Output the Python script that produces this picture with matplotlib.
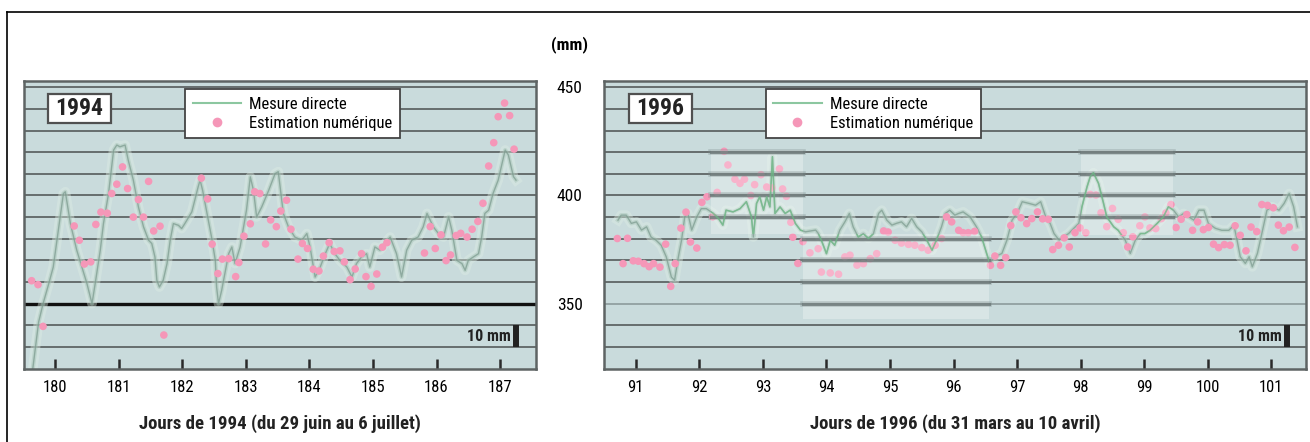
import matplotlib.pyplot as plt
from matplotlib.patches import Rectangle
from matplotlib.lines import Line2D

# Mesure directe (1994) : jour, hauteur (mm)
jours_94 = [179.64, 179.74, 179.81, 179.90, 179.97, 180.05, 180.13, 180.16, 180.24, 180.34,
            180.50, 180.58, 180.63, 180.71, 180.76, 180.84, 180.92, 180.97, 181.02, 181.10,
            181.15, 181.23, 181.31, 181.39, 181.47, 181.52, 181.57, 181.60, 181.64, 181.70,
            181.76, 181.81, 181.86, 181.94, 181.99, 182.04, 182.15, 182.25, 182.28, 182.32,
            182.39, 182.46, 182.52, 182.54, 182.57, 182.62, 182.67, 182.73, 182.78, 182.83,
            182.91, 183.01, 183.07, 183.12, 183.17, 183.25, 183.36, 183.46, 183.51, 183.59,
            183.67, 183.77, 183.88, 183.96, 184.01, 184.09, 184.17, 184.25, 184.32, 184.40,
            184.48, 184.59, 184.67, 184.74, 184.82, 184.90, 184.95, 185.03, 185.11, 185.19,
            185.27, 185.37, 185.45, 185.53, 185.61, 185.71, 185.79, 185.85, 185.90, 185.95,
            186.03, 186.11, 186.19, 186.24, 186.32, 186.40, 186.45, 186.50, 186.58, 186.66,
            186.71, 186.76, 186.82, 186.89, 186.97, 187.08, 187.13, 187.21, 187.25]
mesure_94 = [318.0, 341.5, 350.0, 359.3, 366.9, 383.9, 400.9, 401.7, 387.0, 374.7,
             359.3, 350.0, 359.3, 374.7, 387.0, 400.9, 421.0, 423.3, 422.5, 423.3,
             416.3, 407.1, 394.7, 385.5, 379.3, 377.8, 371.6, 360.8, 357.7, 360.8,
             368.5, 379.3, 387.0, 386.2, 384.7, 387.0, 392.4, 404.0, 407.1, 402.4,
             391.6, 380.8, 370.0, 357.7, 350.0, 356.2, 363.9, 373.1, 376.2, 368.5,
             376.2, 393.2, 408.6, 402.4, 390.1, 394.7, 402.4, 410.1, 411.0, 391.7,
             385.5, 380.8, 379.3, 382.4, 376.2, 362.3, 366.9, 373.1, 377.8, 373.1,
             370.0, 366.9, 362.3, 368.5, 371.6, 373.1, 366.9, 376.2, 374.7, 377.8,
             380.8, 373.1, 362.3, 374.7, 379.3, 380.8, 385.5, 391.7, 388.6, 385.5,
             382.4, 380.8, 390.1, 384.0, 370.0, 368.5, 365.4, 370.0, 371.6, 373.1,
             380.8, 391.7, 393.2, 401.0, 407.1, 421.0, 418.7, 408.7, 407.1]

# Estimation numerique (1994)
jours_est_94 = [179.63, 179.73, 179.81, 180.30, 180.38, 180.46, 180.56, 180.64, 180.72, 180.82,
                180.89, 180.97, 181.06, 181.14, 181.23, 181.31, 181.39, 181.47, 181.55, 181.65,
                181.71, 182.30, 182.40, 182.47, 182.56, 182.63, 182.73, 182.84, 182.89, 182.97,
                183.07, 183.14, 183.22, 183.31, 183.39, 183.48, 183.55, 183.64, 183.71, 183.82,
                183.89, 183.97, 184.06, 184.15, 184.22, 184.31, 184.39, 184.48, 184.55, 184.64,
                184.72, 184.82, 184.89, 184.97, 185.06, 185.15, 185.22, 185.81, 185.90, 185.98,
                186.07, 186.15, 186.22, 186.31, 186.38, 186.48, 186.56, 186.65, 186.73, 186.82,
                186.90, 186.97, 187.07, 187.15, 187.22]
estim_94 = [360.6, 358.8, 339.5, 385.9, 379.3, 368.3, 369.3, 386.6, 392.3, 391.8,
            400.9, 405.2, 413.2, 403.2, 390.0, 398.1, 390.0, 406.5, 383.6, 385.8,
            335.5, 408.0, 398.4, 377.5, 363.9, 370.6, 370.8, 362.5, 369.0, 381.2,
            386.9, 401.7, 400.9, 377.6, 388.7, 385.6, 392.8, 397.8, 384.4, 370.6,
            377.8, 375.5, 365.9, 365.1, 372.0, 378.2, 374.1, 374.4, 369.3, 361.1,
            366.0, 373.1, 362.5, 358.0, 363.7, 376.1, 378.2, 373.4, 385.6, 375.5,
            381.8, 369.9, 372.5, 381.5, 382.5, 380.8, 384.4, 388.0, 396.4, 413.6,
            424.4, 436.4, 442.7, 436.9, 421.4]

# Mesure directe (1996)
jours_96 = [90.72, 90.77, 90.85, 90.93, 91.01, 91.09, 91.17, 91.24, 91.32, 91.40,
            91.48, 91.56, 91.61, 91.67, 91.72, 91.77, 91.82, 91.88, 91.96, 92.03,
            92.11, 92.22, 92.30, 92.37, 92.42, 92.53, 92.64, 92.74, 92.82, 92.85,
            92.90, 92.95, 93.01, 93.06, 93.11, 93.15, 93.19, 93.27, 93.35, 93.43,
            93.51, 93.59, 93.67, 93.83, 93.87, 93.92, 94.00, 94.06, 94.13, 94.21,
            94.29, 94.36, 94.42, 94.50, 94.58, 94.66, 94.74, 94.82, 94.87, 94.95,
            95.03, 95.10, 95.18, 95.26, 95.34, 95.42, 95.50, 95.58, 95.66, 95.73,
            95.81, 95.87, 95.94, 96.02, 96.08, 96.15, 96.26, 96.36, 96.44, 96.52,
            96.57, 96.65, 96.76, 96.84, 96.92, 97.00, 97.08, 97.19, 97.29, 97.37,
            97.45, 97.52, 97.58, 97.66, 97.73, 97.81, 97.89, 97.97, 98.02, 98.10,
            98.15, 98.20, 98.28, 98.36, 98.41, 98.52, 98.59, 98.70, 98.78, 98.86,
            98.94, 99.01, 99.09, 99.20, 99.30, 99.38, 99.46, 99.54, 99.62, 99.70,
            99.78, 99.86, 99.94, 100.01, 100.12, 100.22, 100.33, 100.41, 100.46, 100.51,
            100.59, 100.65, 100.70, 100.78, 100.85, 100.93, 101.01, 101.12, 101.20, 101.28,
            101.35, 101.41]
mesure_96 = [388.6, 390.9, 390.9, 387.1, 387.8, 384.0, 385.5, 380.8, 379.3, 377.0,
             371.6, 362.3, 360.8, 371.6, 379.3, 390.1, 391.7, 384.0, 390.1, 393.9,
             393.9, 391.7, 389.4, 386.3, 393.2, 392.4, 393.9, 397.1, 390.1, 380.8,
             396.3, 399.4, 393.2, 399.4, 394.7, 417.9, 391.7, 394.7, 391.7, 393.2,
             387.1, 384.0, 383.2, 384.0, 382.5, 379.3, 373.1, 379.3, 377.0, 384.0,
             387.8, 391.7, 385.5, 380.8, 382.4, 380.1, 382.4, 391.7, 393.2, 388.6,
             386.3, 387.1, 387.8, 385.5, 389.4, 385.5, 383.2, 379.3, 374.7, 379.3,
             385.5, 391.7, 393.2, 390.9, 391.7, 392.4, 390.1, 385.5, 380.9, 373.2,
             368.6, 371.7, 373.2, 379.4, 388.6, 391.7, 397.1, 396.3, 395.5, 397.1,
             390.1, 387.0, 382.4, 379.4, 380.9, 382.4, 384.8, 387.1, 394.8, 404.0,
             408.7, 410.5, 405.6, 396.3, 390.1, 385.5, 383.9, 379.4, 373.2, 379.4,
             382.4, 382.4, 383.9, 387.0, 390.1, 394.8, 393.2, 390.1, 391.7, 390.1,
             388.6, 393.2, 393.2, 387.0, 384.8, 383.9, 383.9, 386.2, 379.4, 371.7,
             368.6, 371.7, 367.0, 373.2, 382.4, 393.2, 394.8, 393.2, 396.3, 400.9,
             394.8, 385.5]

# Estimation numerique (1996)
jours_est_96 = [90.71, 90.80, 90.87, 90.96, 91.04, 91.13, 91.21, 91.28, 91.38, 91.47,
                91.55, 91.62, 91.71, 91.79, 91.86, 91.96, 92.04, 92.12, 92.21, 92.28,
                92.39, 92.45, 92.56, 92.64, 92.71, 92.81, 92.87, 92.97, 93.06, 93.14,
                93.26, 93.31, 93.37, 93.44, 93.47, 93.55, 93.63, 93.74, 93.87, 93.92,
                94.06, 94.19, 94.29, 94.37, 94.48, 94.58, 94.69, 94.79, 94.90, 94.97,
                95.08, 95.18, 95.29, 95.39, 95.50, 95.60, 95.71, 95.81, 95.89, 95.97,
                96.08, 96.15, 96.23, 96.33, 96.58, 96.65, 96.74, 96.82, 96.90, 96.98,
                97.06, 97.15, 97.23, 97.32, 97.40, 97.49, 97.56, 97.65, 97.74, 97.82,
                97.91, 97.99, 98.08, 98.15, 98.24, 98.32, 98.41, 98.50, 98.59, 98.67,
                98.74, 98.82, 98.93, 99.01, 99.09, 99.18, 99.27, 99.34, 99.42, 99.50,
                99.58, 99.67, 99.76, 99.84, 99.93, 100.01, 100.09, 100.17, 100.26, 100.35,
                100.43, 100.51, 100.60, 100.68, 100.77, 100.85, 100.94, 101.03, 101.11, 101.19,
                101.28, 101.37]
estim_96 = [380.1, 368.5, 380.2, 369.8, 369.6, 368.5, 367.1, 368.5, 366.9, 377.5,
            358.0, 368.5, 384.9, 392.3, 378.5, 375.7, 396.8, 399.4, 390.1, 401.4,
            420.4, 414.1, 407.5, 405.6, 407.5, 400.0, 405.0, 409.6, 403.9, 403.5,
            412.3, 403.0, 399.6, 387.6, 380.7, 368.6, 378.7, 373.5, 375.4, 364.6,
            364.2, 363.6, 371.6, 372.4, 367.8, 368.5, 370.8, 373.1, 383.6, 383.1,
            379.3, 378.0, 377.4, 377.0, 375.9, 374.7, 377.0, 380.1, 390.1, 387.8,
            383.9, 382.8, 382.8, 383.4, 367.7, 372.0, 367.7, 371.3, 386.1, 392.4,
            389.7, 387.0, 389.3, 392.4, 389.2, 389.0, 375.0, 377.0, 380.4, 376.2,
            382.8, 385.0, 382.8, 400.5, 400.2, 392.0, 385.6, 394.0, 389.0, 382.8,
            376.2, 380.9, 386.0, 390.1, 385.0, 384.7, 389.3, 391.9, 395.8, 385.2,
            389.0, 391.2, 383.9, 387.8, 384.2, 385.2, 377.5, 375.9, 377.3, 377.0,
            386.0, 381.6, 374.4, 385.4, 383.3, 395.8, 395.4, 394.3, 386.3, 383.7,
            385.4, 376.0]

# zones agrandies du graphique 1996 : (jour debut, jour fin, mm bas, mm haut)
zones_96 = [(92.18, 93.63, 382.0, 421.0), (93.63, 96.55, 343.0, 382.4), (98.0, 99.45, 381.6, 421.0)]

COND = ['Roboto Condensed', 'Liberation Sans', 'DejaVu Sans']
BG = '#c9dbdc'
GRID = '#555b5b'
PINK = '#f597b8'
W, H = 1310, 442
YMIN, YMAX = 319.8, 452.9

fig = plt.figure(figsize=(W / 100, H / 100), dpi=100)
fig.patch.set_facecolor('white')

# cadre exterieur
fig.add_artist(Line2D([7 / W, 7 / W], [0, 1 - 12 / H], color='black', lw=1.2))
fig.add_artist(Line2D([7 / W, 1], [1 - 12 / H, 1 - 12 / H], color='black', lw=1.2))


def make_axes(x0, x1, y0=81, y1=369):
    return fig.add_axes([x0 / W, 1 - y1 / H, (x1 - x0) / W, (y1 - y0) / H])


def draw_panel(ax, x, y, xe, ye, xlim, ticks, year, xlabel, heavy_350, box_px, leg_px, bar_day):
    ax.set_facecolor(BG)
    ax.set_xlim(*xlim)
    ax.set_ylim(YMIN, YMAX)
    for s in ax.spines.values():
        s.set_color('#5e6464')
        s.set_linewidth(1.8)

    for v in range(330, 451, 10):
        if v == 350:
            if heavy_350:
                ax.axhline(v, color='#111111', lw=2.4, zorder=1)
            else:
                ax.axhline(v, color='#8c9b9c', lw=1.2, zorder=1)
        else:
            ax.axhline(v, color=GRID, lw=1.2, zorder=1)

    # mesure directe : halo clair + trait fin un peu flou
    ax.plot(x, y, color='#deefe4', lw=7, alpha=0.4, zorder=2, solid_joinstyle='round')
    ax.plot(x, y, color='#a3c2b3', lw=3, alpha=0.45, zorder=2.05, solid_joinstyle='round')
    ax.plot(x, y, color='#7a998d', lw=1.0, alpha=0.7, zorder=2.1)
    ax.scatter(xe, ye, s=30, color=PINK, edgecolors='none', zorder=3)

    ax.set_xticks(ticks)
    ax.set_xticklabels([str(t) for t in ticks], family=COND, fontsize=12)
    ax.tick_params(axis='x', direction='in', length=7, width=1.8, color='#2a2a2a', pad=8)
    ax.set_yticks([])
    ax.set_xlabel(xlabel, family=COND, fontsize=13.5, fontweight='bold', labelpad=14,
                  color='#222222')

    # etiquette de l'annee
    axw = ax.get_position().width * W
    axl = ax.get_position().x0 * W
    bx0 = (box_px[0] - axl) / axw
    bx1 = (box_px[1] - axl) / axw
    by0 = (369 - 123) / 288
    by1 = (369 - 94) / 288
    ax.add_patch(Rectangle((bx0, by0), bx1 - bx0, by1 - by0, transform=ax.transAxes,
                           facecolor='white', edgecolor='#505050', lw=1.6, zorder=6))
    ax.text((bx0 + bx1) / 2, (by0 + by1) / 2, year, transform=ax.transAxes, ha='center',
            va='center', family=COND, fontsize=17, fontweight='bold', color='#222222', zorder=7)

    handles = [Line2D([], [], color='#8cc7a0', lw=1.5),
               Line2D([], [], ls='none', marker='o', ms=7, color=PINK, markeredgecolor='none')]
    leg = ax.legend(handles, ['Mesure directe', 'Estimation numérique'], loc='upper left',
                    bbox_to_anchor=((leg_px - axl) / axw, (369 - 89.3) / 288), borderaxespad=0,
                    prop={'family': COND, 'size': 12}, handlelength=2.9, handletextpad=0.5,
                    borderpad=0.45, labelspacing=0.25, fancybox=False, framealpha=1,
                    edgecolor='#444444')
    leg.get_frame().set_linewidth(1.3)
    leg.set_zorder(8)

    # barre d'echelle 10 mm
    ax.plot([bar_day, bar_day], [330, 340], color='#222222', lw=4.3, solid_capstyle='butt', zorder=5)
    ax.text(bar_day - 0.09, 335, '10 mm', ha='right', va='center', family=COND,
            fontsize=11.5, fontweight='bold', color='#222222', zorder=5)


ax1 = make_axes(24, 535.7)
draw_panel(ax1, jours_94, mesure_94, jours_est_94, estim_94, (179.51, 187.56), list(range(180, 188)),
           '1994', 'Jours de 1994 (du 29 juin au 6 juillet)', True, (48, 111), 185, 187.25)

ax2 = make_axes(604, 1305.7)
draw_panel(ax2, jours_96, mesure_96, jours_est_96, estim_96, (90.5, 101.54), list(range(91, 102)),
           '1996', 'Jours de 1996 (du 31 mars au 10 avril)', False, (629.3, 692), 765.7, 101.25)

# zones agrandies : fond eclairci, grille renforcee, trace en vert
for d0, d1, m0, m1 in zones_96:
    rect = Rectangle((d0, m0), d1 - d0, m1 - m0, facecolor='white', alpha=0.28,
                     edgecolor='none', zorder=4)
    ax2.add_patch(rect)
    for v in range(330, 451, 10):
        if m0 < v < m1 + 1:
            ax2.plot([d0, d1], [v, v], color='#7b8888', lw=4, alpha=0.35, zorder=4.1)
            ax2.plot([d0, d1], [v, v], color='#6f7b7b', lw=2.2, alpha=0.8, zorder=4.2)
    green, = ax2.plot(jours_96, mesure_96, color='#6cb884', lw=1.2, alpha=0.75, zorder=4.3)
    green.set_clip_path(rect)

# echelle verticale commune, centree entre les deux graphiques
ax1.set_yticks([350, 400, 450])
ax1.set_yticklabels(['350', '400', '450'], family=COND, fontsize=12.5, ha='center')
ax1.tick_params(axis='y', left=False, right=False, length=0, labelleft=False,
                labelright=True, pad=24.5)
fig.text(570 / W, 1 - 45 / H, '(mm)', ha='center', va='center', family=COND,
         fontsize=12.5, fontweight='bold')

fig.savefig('out.png', dpi=100)
